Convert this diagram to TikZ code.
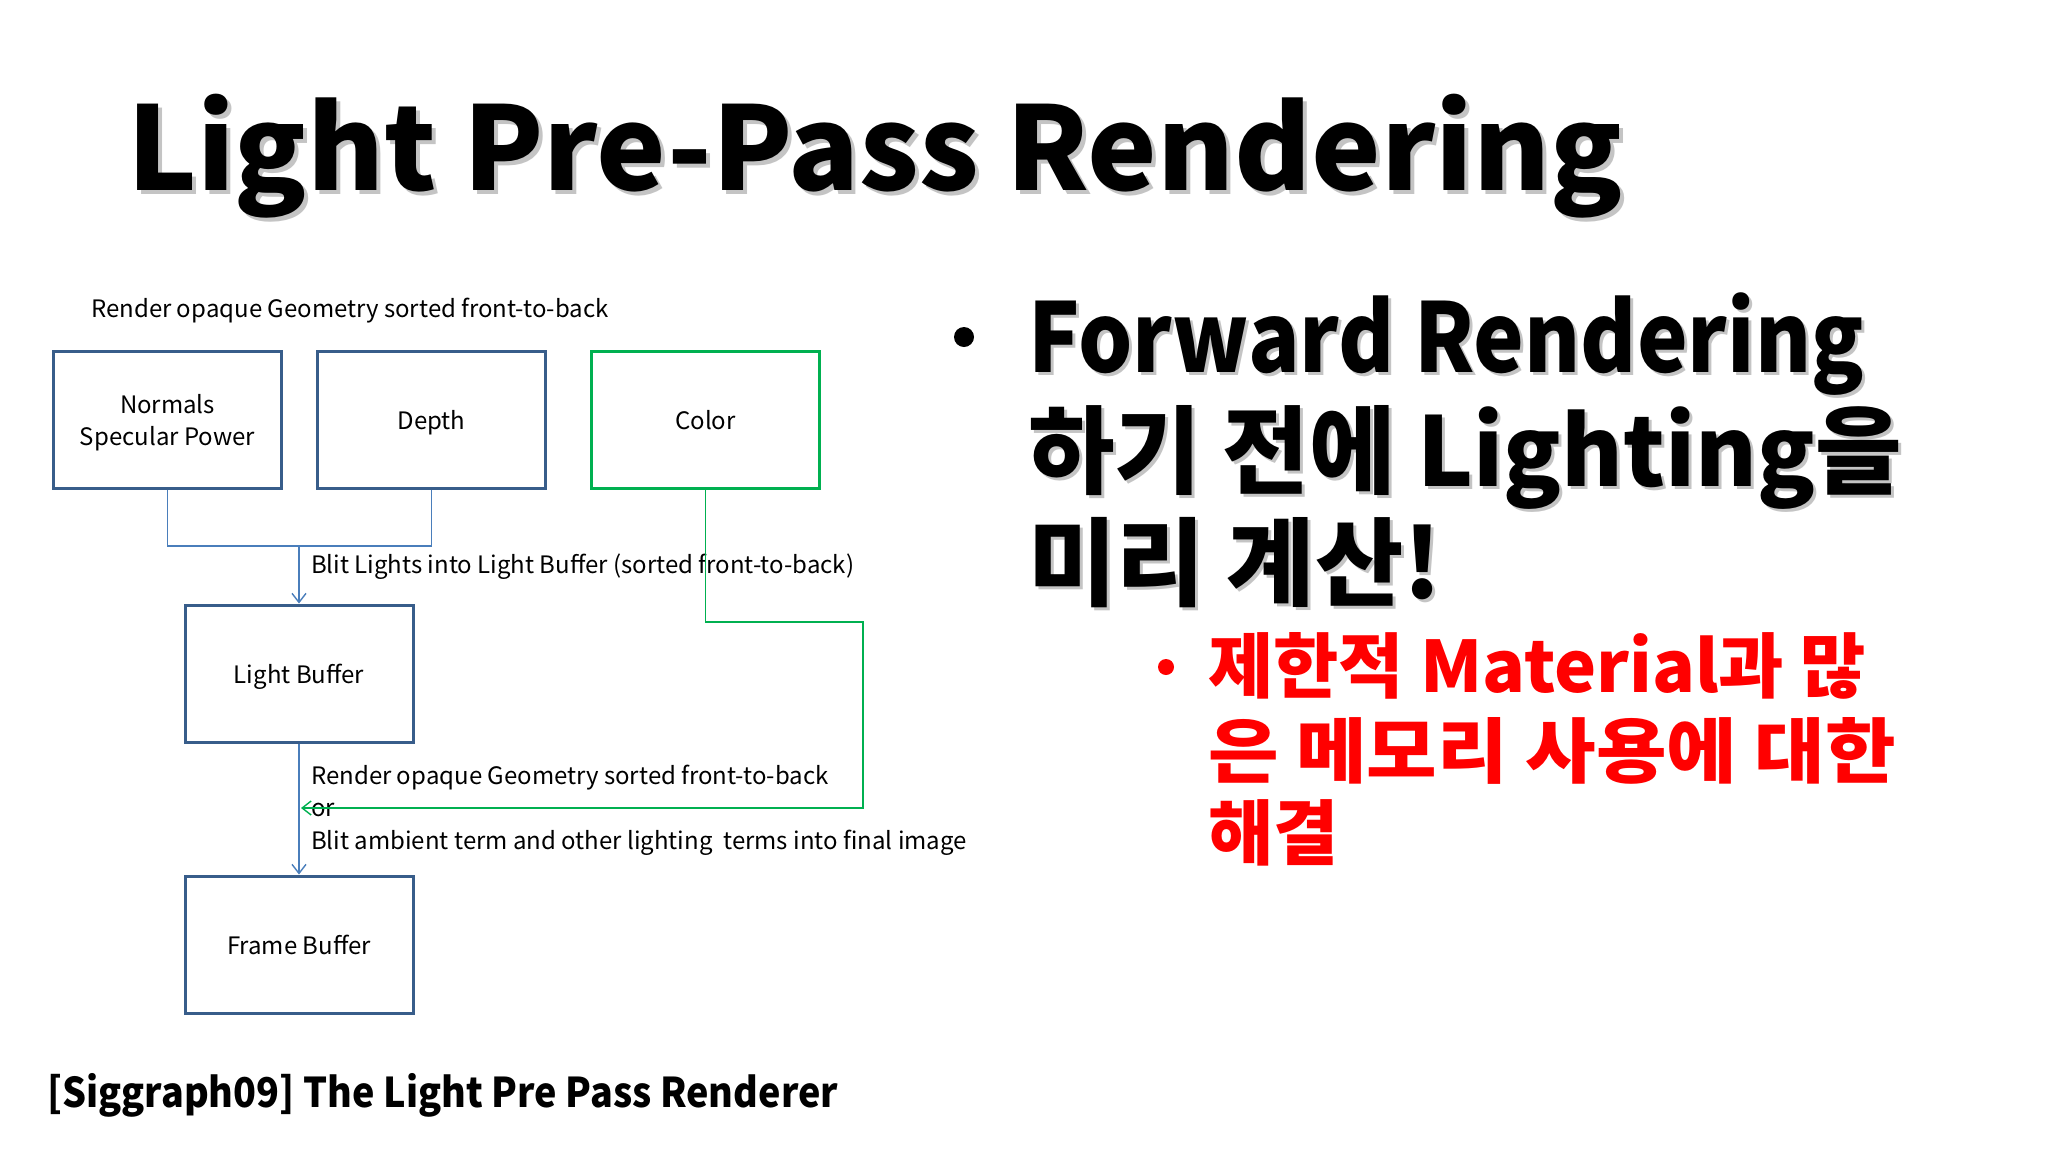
\documentclass[tikz,border=0pt]{standalone}
\usepackage{fontspec}
\usepackage{graphicx}
\setmainfont{Noto Sans CJK KR}
\usetikzlibrary{arrows.meta}
\definecolor{boxblue}{HTML}{385D8A}
\definecolor{lineblue}{HTML}{4A7EBB}
\definecolor{gline}{HTML}{00B050}
\definecolor{shade}{HTML}{C4C4C4}
\newcommand\hsx[2]{\scalebox{#1}[1]{#2}}
\tikzset{
  bufbox/.style={draw=boxblue, line width=3pt, minimum width=228pt, minimum height=137pt, inner sep=0pt, align=center, text depth=0pt, font=\fontsize{24}{32}\selectfont},
  gbox/.style={bufbox, draw=gline},
  conn/.style={draw=lineblue, line width=1.4pt},
  gconn/.style={draw=gline, line width=1.4pt},
  tip/.style={-{Straight Barb[length=9pt,width=14pt,line width=1.4pt]}},
  lbl/.style={anchor=west, inner sep=0pt, align=left, font=\fontsize{24}{32.5}\selectfont},
  ttl/.style={anchor=base west, inner sep=0pt, font=\bfseries\fontsize{116}{116}\selectfont},
  big/.style={anchor=base west, inner sep=0pt, font=\bfseries\fontsize{96}{96}\selectfont},
  red/.style={anchor=base west, inner sep=0pt, text=red, font=\bfseries\fontsize{71}{71}\selectfont},
}
\begin{document}
\begin{tikzpicture}[x=1pt,y=-1pt]
\useasboundingbox[fill=white] (0,0) rectangle (2048,1152);
% title
\node[ttl, text=shade] (tsh) at (131,194) {\hsx{1.01}{Light Pre-Pass Rendering}};
\node[ttl] (title) at (127,190) {\hsx{1.01}{Light Pre-Pass Rendering}};
% top label
\node[lbl] (top) at (91,311) {Render opaque Geometry sorted front-to-back};
% boxes
\node[bufbox] (nrm) at (167.5,419.5) {Normals\\Specular Power};
\node[bufbox] (dep) at (431.5,419.5) {Depth};
\node[gbox] (col) at (705.5,419.5) {Color};
\node[bufbox] (lb) at (299,673.5) {Light Buffer};
\node[bufbox] (fb) at (299,944.5) {Frame Buffer};
% connectors
\coordinate (j) at (299,546);
\coordinate (g1) at (863,622);
\coordinate (g2) at (301,808);
\draw[conn] (nrm.south) |- (j) -| (dep.south);
\draw[conn,tip] (j) -- (lb.north);
\draw[conn,tip] (lb.south) -- (fb.north);
\node[lbl] (l1) at (311,567) {Blit Lights into Light Buffer (sorted front-to-back)};
\node[lbl] (l2) at (311,810) {Render opaque Geometry sorted front-to-back\\or\\Blit ambient term and other lighting\ \ terms into final image};
\draw[gconn,tip] (col.south) |- (g1) |- (g2);
% right text
\node[circle, fill=black, minimum size=20pt, inner sep=0pt] (b1) at (964,337) {};
\node[big, text=shade] (f1s) at (1031,375) {\hsx{0.89}{Forward Rendering}};
\node[big] (f1) at (1028,372) {\hsx{0.89}{Forward Rendering}};
\node[big, text=shade] (f2s) at (1031,489) {\hsx{0.98}{하기 전에 Lighting을}};
\node[big] (f2) at (1028,486) {\hsx{0.98}{하기 전에 Lighting을}};
\node[big, text=shade] (f3s) at (1031,601) {미리 계산!};
\node[big] (f3) at (1028,598) {미리 계산!};
\node[circle, fill=red, minimum size=16pt, inner sep=0pt] (b2) at (1166,667) {};
\node[red] (r1) at (1208,692) {제한적 Material과 많};
\node[red] (r2) at (1208,777) {\hsx{1.08}{은 메모리 사용에 대한}};
\node[red] (r3) at (1208,859) {해결};
% footer
\node[anchor=base west, inner sep=0pt, font=\bfseries\fontsize{41}{41}\selectfont] (foot) at (47,1107) {\hsx{0.92}{[Siggraph09] The Light Pre Pass Renderer}};
\end{tikzpicture}
\end{document}
